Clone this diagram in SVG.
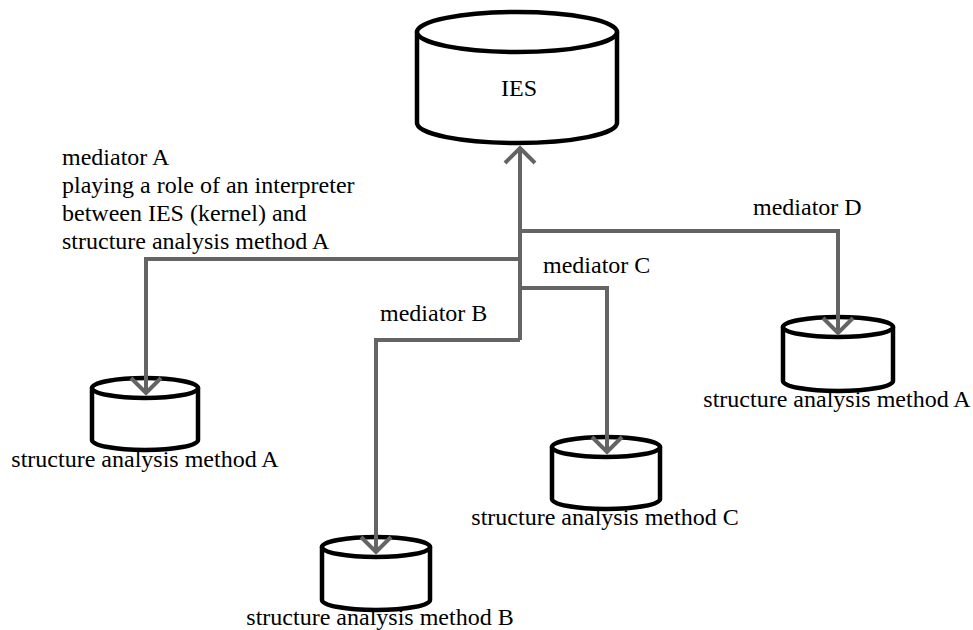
<svg xmlns="http://www.w3.org/2000/svg" width="973" height="630" viewBox="0 0 973 630">
<style>
.cyl{fill:#fff;stroke:#000;stroke-width:4.5;stroke-linejoin:round}
.con{fill:none;stroke:#646464;stroke-width:4;stroke-linejoin:miter}
text{font-family:"Liberation Serif","Times New Roman",serif;font-size:24px;fill:#000}
.mid{text-anchor:middle}
</style>
<defs>
<marker id="chev" markerUnits="userSpaceOnUse" viewBox="-20 -20 40 40" refX="0" refY="0" markerWidth="40" markerHeight="40" orient="auto">
<path d="M-15,-15 L0,0 L-15,15" fill="none" stroke="#646464" stroke-width="4"/>
</marker>
</defs>
<rect width="973" height="630" fill="#fff"/>
<g id="ies">
<path class="cyl" d="M417,32 L417,123 A100,20 0 0 0 617,123 L617,32 Z"/>
<ellipse class="cyl" cx="517" cy="32" rx="100" ry="20"/>
<text class="mid" x="519" y="96">IES</text>
</g>
<g id="methodA-left">
<path class="cyl" d="M92,388 L92,440 A53,10 0 0 0 198,440 L198,388 Z"/>
<ellipse class="cyl" cx="145" cy="388" rx="53" ry="10"/>
<text class="mid" x="145" y="467">structure analysis method A</text>
</g>
<g id="methodB">
<path class="cyl" d="M322,547 L322,600 A54,10 0 0 0 430,600 L430,547 Z"/>
<ellipse class="cyl" cx="376" cy="547" rx="54" ry="10"/>
<text class="mid" x="380" y="625">structure analysis method B</text>
</g>
<g id="methodC">
<path class="cyl" d="M552,447 L552,499 A54,10 0 0 0 660,499 L660,447 Z"/>
<ellipse class="cyl" cx="606" cy="447" rx="54" ry="10"/>
<text class="mid" x="605" y="525">structure analysis method C</text>
</g>
<g id="methodA-right">
<path class="cyl" d="M783,327 L783,381 A55,10 0 0 0 893,381 L893,327 Z"/>
<ellipse class="cyl" cx="838" cy="327" rx="55" ry="10"/>
<text class="mid" x="837" y="407">structure analysis method A</text>
</g>
<g id="labels">
<text x="62" y="165">mediator A</text>
<text x="62" y="193">playing a role of an interpreter</text>
<text x="62" y="221">between IES (kernel) and</text>
<text x="62" y="249">structure analysis method A</text>
<text x="753" y="215">mediator D</text>
<text x="543" y="273">mediator C</text>
<text x="380" y="321">mediator B</text>
</g>
<g id="connectors">
<path class="con" d="M520,340 L520,148" marker-end="url(#chev)"/>
<path class="con" d="M520,231 L838,231 L838,333" marker-end="url(#chev)"/>
<path class="con" d="M520,259 L146,259 L146,393" marker-end="url(#chev)"/>
<path class="con" d="M520,288 L607,288 L607,452" marker-end="url(#chev)"/>
<path class="con" d="M520,340 L376,340 L376,552" marker-end="url(#chev)"/>
</g>
</svg>
